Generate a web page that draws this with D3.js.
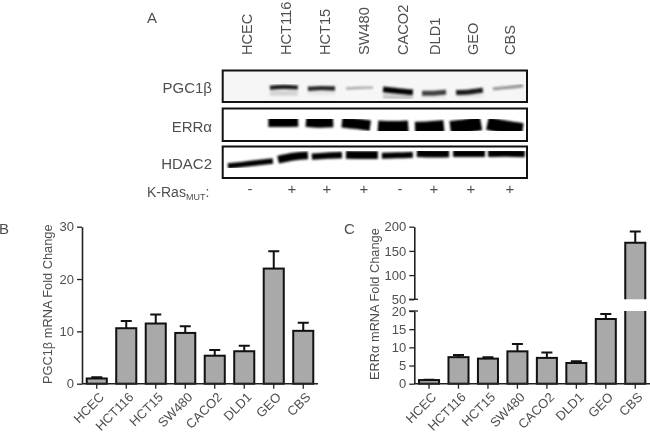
<!DOCTYPE html>
<html>
<head>
<meta charset="utf-8">
<script src="https://cdn.jsdelivr.net/npm/d3@7"></script>
<style>
  html, body { margin: 0; padding: 0; background: #fff; }
  svg { display: block; font-family: "Liberation Sans", Arial, sans-serif; filter: blur(0.35px); }
  text { fill: #4f4f4f; }
</style>
</head>
<body>
<div id="chart"></div>
<script>
const cellLines = ["HCEC", "HCT116", "HCT15", "SW480", "CACO2", "DLD1", "GEO", "CBS"];
const krasStatus = ["-", "+", "+", "+", "-", "+", "+", "+"];

// panel B
const pgcValues = [1.0, 10.6, 11.5, 9.7, 5.35, 6.2, 22, 10.1];
const pgcErrors = [1.25, 12, 13.2, 11, 6.45, 7.25, 25.3, 11.65];
const pgcTicks = [0, 10, 20, 30];

// panel C, broken axis
const errValues = [1.0, 7.3, 6.9, 8.9, 7.1, 5.7, 17.8, 167];
const errErrors = [1.1, 7.9, 7.3, 10.9, 8.6, 6.2, 19.2, 190];
const errLowTicks = [0, 5, 10, 15, 20];
const errHighTicks = [50, 100, 150, 200];

// blots, read as percent of the strip: [left, right, yLeft, yMid, yRight, thickness, darkness]
const pgcBands = [
  [15.5, 24.7, 55, 52, 54, 13, 0.9],
  [28, 36.9, 58, 56, 57, 14, 0.85],
  [40.5, 49.4, 57, 55, 54, 7, 0.35],
  [52.7, 62.5, 60, 65, 69, 18, 1],
  [65.5, 73.4, 72, 72, 68, 16, 0.75],
  [76.7, 85.5, 70, 68, 62, 16, 0.9],
  [88.8, 98.7, 58, 54, 48, 10, 0.4]
];
const pgcSmears = [
  [15.5, 24.7, 72, 72, 72, 16, 0.14],
  [28, 36.9, 72, 72, 72, 10, 0.07],
  [52.7, 62.5, 82, 84, 84, 14, 0.2],
  [65.5, 73.4, 86, 86, 86, 7, 0.07],
  [76.7, 85.5, 82, 82, 80, 8, 0.07]
];
const errBands = [
  [15, 24.8, 38, 38, 37, 38, 1],
  [27.4, 36.3, 37, 40, 39, 38, 1],
  [39.2, 48.5, 42, 47, 53, 33, 1],
  [51, 61, 58, 60, 58, 43, 1],
  [63.2, 72.7, 60, 58, 54, 38, 1],
  [74.8, 84.9, 60, 54, 46, 43, 1],
  [87, 98.6, 46, 57, 65, 40, 1]
];
const hdacBands = [
  [1.7, 16.5, 62, 54, 46, 17, 1],
  [18.2, 28, 42, 32, 28, 25, 1],
  [29.3, 39.2, 32, 29, 27, 20, 1],
  [40.5, 51, 26, 27, 27, 25, 1],
  [52.3, 62.5, 29, 28, 26, 19, 1],
  [63.8, 74.4, 21, 23, 22, 24, 1],
  [75.7, 86.2, 22, 22, 22, 23, 1],
  [87.2, 99.3, 22, 21, 23, 23, 1]
];

const labelX = [247, 285.7, 325, 364, 403, 435, 473, 510];
const signX = [250, 292, 327, 364, 400, 434, 471, 510];

const width = 650;
const height = 435;

const svg = d3.select("#chart").append("svg").attr("width", width).attr("height", height);

const defs = svg.append("defs");
defs.append("filter").attr("id", "soft").append("feGaussianBlur").attr("stdDeviation", 0.9);

// panel letters
const letters = [["A", 147, 23], ["B", -1, 234], ["C", 344, 234]];
svg.selectAll(".panel-letter").data(letters).join("text")
  .attr("x", (d) => d[1]).attr("y", (d) => d[2])
  .attr("font-size", 15).text((d) => d[0]);

// cell line labels over the blot
cellLines.forEach((name, i) => {
  svg.append("text")
    .attr("transform", `translate(${labelX[i] + 5},55) rotate(-90)`)
    .attr("font-size", 14.6)
    .text(name);
});

function drawStrip(top, bottom, label, bands, smears, tint) {
  const x = d3.scaleLinear().domain([0, 100]).range([222.7, 527]);
  const y = d3.scaleLinear().domain([0, 100]).range([top, bottom]);
  const line = d3.line().curve(d3.curveCatmullRom);

  svg.append("rect")
    .attr("x", x(0)).attr("y", top)
    .attr("width", x(100) - x(0)).attr("height", bottom - top)
    .attr("fill", tint);

  const g = svg.append("g").attr("filter", "url(#soft)");
  [...smears, ...bands].forEach(([left, right, yl, ym, yr, thick, dark]) => {
    g.append("path")
      .attr("d", line([
        [x(left), y(yl)],
        [x((left + right) / 2), y(ym)],
        [x(right), y(yr)]
      ]))
      .attr("fill", "none")
      .attr("stroke", "#000")
      .attr("stroke-opacity", dark)
      .attr("stroke-width", y(thick) - y(0));
  });

  svg.append("rect")
    .attr("x", x(0)).attr("y", top)
    .attr("width", x(100) - x(0)).attr("height", bottom - top)
    .attr("fill", "none").attr("stroke", "#111").attr("stroke-width", 2);

  svg.append("text")
    .attr("x", 212).attr("y", bottom - 9)
    .attr("text-anchor", "end").attr("font-size", 15)
    .text(label);
}

drawStrip(70.5, 102, "PGC1β", pgcBands, pgcSmears, "#f6f6f6");
drawStrip(108.5, 141, "ERRα", errBands, [], "#fff");
drawStrip(146.5, 178, "HDAC2", hdacBands, [], "#fff");

// K-Ras row
const kras = svg.append("text").attr("x", 147).attr("y", 197).attr("font-size", 14);
kras.append("tspan").text("K-Ras");
kras.append("tspan").attr("dy", 3).attr("font-size", 9).text("MUT");
kras.append("tspan").attr("dy", -3).text(":");
svg.selectAll(".sign").data(krasStatus).join("text")
  .attr("x", (d, i) => signX[i]).attr("y", 194)
  .attr("text-anchor", "middle").attr("font-size", 15)
  .text((d) => d);

function styleAxis(g) {
  g.selectAll("path").attr("stroke", "#222").attr("stroke-width", 1.6);
  g.selectAll("line").attr("stroke", "#222").attr("stroke-width", 1.3);
  g.selectAll("text").attr("font-size", 13).attr("font-family", "Liberation Sans").attr("fill", "#4f4f4f");
}

function bandScale(left, right) {
  return d3.scaleBand().domain(cellLines).range([left, right]).paddingInner(0.32).paddingOuter(0.16);
}

function drawCategoryAxis(x, y0, right) {
  const axis = svg.append("g")
    .attr("transform", `translate(0,${y0})`)
    .call(d3.axisBottom(x).tickSize(5).tickSizeOuter(0));
  styleAxis(axis);
  axis.select(".domain").attr("d", `M${x.range()[0]},0H${right}`);
  axis.selectAll("text")
    .attr("font-size", 13)
    .attr("text-anchor", "end")
    .attr("transform", "translate(5,11) rotate(-45)")
    .attr("dy", "0.35em")
    .attr("y", 0).attr("x", 0);
}

function drawErrorBar(cx, yTop, yBase, capHalf) {
  svg.append("path")
    .attr("d", `M${cx},${yBase}V${yTop}M${cx - capHalf},${yTop}H${cx + capHalf}`)
    .attr("fill", "none").attr("stroke", "#111").attr("stroke-width", 2);
}

// panel B
{
  const y = d3.scaleLinear().domain([0, 30]).range([383.7, 226.7]);
  const x = bandScale(82, 318);
  const g = svg.append("g");
  g.selectAll("rect").data(cellLines).join("rect")
    .attr("x", (d) => x(d))
    .attr("y", (d, i) => y(pgcValues[i]))
    .attr("width", x.bandwidth())
    .attr("height", (d, i) => y(0) - y(pgcValues[i]))
    .attr("fill", "#a9a9a9").attr("stroke", "#111").attr("stroke-width", 2);
  cellLines.forEach((d, i) => {
    drawErrorBar(x(d) + x.bandwidth() / 2, y(pgcErrors[i]), y(pgcValues[i]), 5.5);
  });

  const axis = svg.append("g").attr("transform", "translate(82,0)")
    .call(d3.axisLeft(y).tickValues(pgcTicks).tickSize(5).tickSizeOuter(0));
  styleAxis(axis);
  drawCategoryAxis(x, 383.7, 318);

  svg.append("text")
    .attr("transform", "translate(52,384) rotate(-90)")
    .attr("font-size", 12.8)
    .text("PGC1β mRNA Fold Change");
}

// panel C
{
  const yLow = d3.scaleLinear().domain([0, 20]).range([383.7, 311]);
  const yHigh = d3.scaleLinear().domain([50, 200]).range([299.3, 226.7]);
  const x = bandScale(414.3, 650);
  const g = svg.append("g");
  const isTall = (v) => v > 20;

  cellLines.forEach((d, i) => {
    const v = errValues[i];
    const left = x(d);
    const right = left + x.bandwidth();
    if (!isTall(v)) {
      g.append("rect")
        .attr("x", left).attr("y", yLow(v))
        .attr("width", x.bandwidth()).attr("height", yLow(0) - yLow(v))
        .attr("fill", "#a9a9a9").attr("stroke", "#111").attr("stroke-width", 2);
      drawErrorBar((left + right) / 2, yLow(errErrors[i]), yLow(v), 5.5);
    } else {
      // lower stub, then upper part, both open at the axis break
      g.append("rect")
        .attr("x", left).attr("y", yLow(20))
        .attr("width", x.bandwidth()).attr("height", yLow(0) - yLow(20))
        .attr("fill", "#a9a9a9");
      g.append("path")
        .attr("d", `M${left},${yLow(20)}V${yLow(0)}H${right}V${yLow(20)}`)
        .attr("fill", "none").attr("stroke", "#111").attr("stroke-width", 2);
      g.append("rect")
        .attr("x", left).attr("y", yHigh(v))
        .attr("width", x.bandwidth()).attr("height", yHigh(50) - yHigh(v))
        .attr("fill", "#a9a9a9");
      g.append("path")
        .attr("d", `M${left},${yHigh(50)}V${yHigh(v)}H${right}V${yHigh(50)}`)
        .attr("fill", "none").attr("stroke", "#111").attr("stroke-width", 2);
      drawErrorBar((left + right) / 2, yHigh(errErrors[i]), yHigh(v), 5.5);
    }
  });

  const low = svg.append("g").attr("transform", "translate(414.3,0)")
    .call(d3.axisLeft(yLow).tickValues(errLowTicks).tickSize(5).tickSizeOuter(0));
  styleAxis(low);
  const high = svg.append("g").attr("transform", "translate(414.3,0)")
    .call(d3.axisLeft(yHigh).tickValues(errHighTicks).tickSize(5).tickSizeOuter(0));
  styleAxis(high);

  // break marks stick out to the right of the axis
  [yLow(20), yHigh(50)].forEach((py) => {
    svg.append("line")
      .attr("x1", 409).attr("x2", 418).attr("y1", py).attr("y2", py)
      .attr("stroke", "#222").attr("stroke-width", 1.3);
  });
  drawCategoryAxis(x, 383.7, 650);

  svg.append("text")
    .attr("transform", "translate(379,380) rotate(-90)")
    .attr("font-size", 12.8)
    .text("ERRα mRNA Fold Change");
}
</script>
</body>
</html>
